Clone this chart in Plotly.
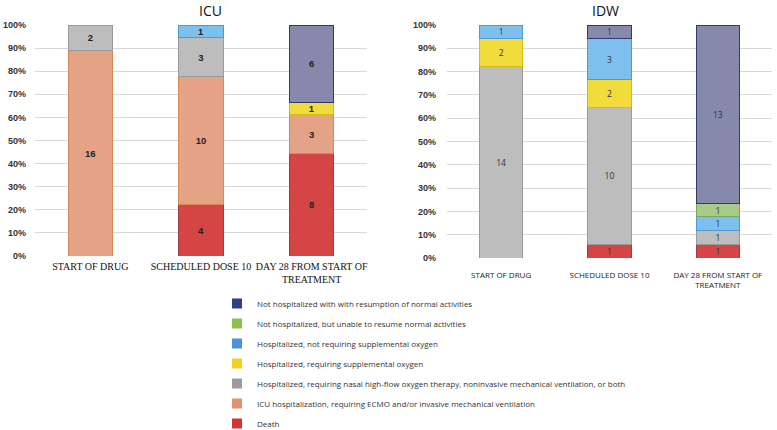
import plotly.graph_objects as go

categories = ["START OF DRUG", "SCHEDULED DOSE 10", "DAY 28 FROM START OF<br>TREATMENT"]

status_names = [
    "Death",
    "ICU hospitalization, requiring ECMO and/or invasive mechanical ventilation",
    "Hospitalized, requiring nasal high-flow oxygen therapy, noninvasive mechanical ventilation, or both",
    "Hospitalized, requiring supplemental oxygen",
    "Hospitalized, not requiring supplemental oxygen",
    "Not hospitalized, but unable to resume normal activities",
    "Not hospitalized with with resumption of normal activities",
]

icu_death = [0, 4, 8]
icu_ecmo = [16, 10, 3]
icu_nasal = [2, 3, 0]
icu_suppl = [0, 0, 1]
icu_no_oxygen = [0, 1, 0]
icu_unable = [0, 0, 0]
icu_normal = [0, 0, 6]

idw_death = [0, 1, 1]
idw_ecmo = [0, 0, 0]
idw_nasal = [14, 10, 1]
idw_suppl = [2, 2, 0]
idw_no_oxygen = [1, 3, 1]
idw_unable = [0, 0, 1]
idw_normal = [0, 1, 13]

icu_series = [icu_death, icu_ecmo, icu_nasal, icu_suppl, icu_no_oxygen, icu_unable, icu_normal]
idw_series = [idw_death, idw_ecmo, idw_nasal, idw_suppl, idw_no_oxygen, idw_unable, idw_normal]

fill_colors = ["#D64545", "#E4A386", "#BDBDBD", "#F1DC3C", "#7DC0EE", "#A8CC88", "#8689AB"]
line_colors = ["#9E3A4A", "#D9884E", "#9A9A9A", "#D4BC10", "#4C98D8", "#78A858", "#323A6C"]
legend_colors = ["#D03434", "#E09272", "#9C9C9C", "#F0D224", "#4E92DA", "#8DC050", "#2F3F8C"]

fig = go.Figure()

def add_panel(series, xa, ya, text_font):
    for name, vals, fc, lc in zip(status_names, series, fill_colors, line_colors):
        yv = [v if v else None for v in vals]
        tx = [str(v) if v else "" for v in vals]
        fig.add_trace(go.Bar(
            x=categories, y=yv, name=name, text=tx,
            textposition="inside", insidetextanchor="middle", textangle=0,
            constraintext="none", textfont=text_font,
            marker=dict(color=fc, line=dict(color=lc, width=1)),
            width=0.4, xaxis=xa, yaxis=ya, showlegend=False,
            hoverinfo="skip",
        ))

add_panel(icu_series, "x", "y", dict(family="Liberation Sans", size=9.5, color="#222", weight="bold"))
add_panel(idw_series, "x2", "y2", dict(family="Open Sans", size=8.5, color="#333"))

# legend entries (top to bottom)
for i, (name, col) in enumerate(reversed(list(zip(status_names, legend_colors)))):
    fig.add_trace(go.Scatter(
        x=[None], y=[None], mode="markers", name=name, legendgroup=f"g{i}",
        marker=dict(symbol="square", size=10, color=col),
        xaxis="x", yaxis="y", showlegend=True,
    ))

W, H = 777, 430
yaxis_common = dict(
    range=[0, 100], dtick=10, ticksuffix="%", showgrid=True,
    gridcolor="#D9D9D9", gridwidth=1, zeroline=False, showline=False,
    tickfont=dict(family="Liberation Sans", size=9, color="#333", weight="bold"),
    ticks="", fixedrange=True, automargin=False,
)

fig.update_layout(
    width=W, height=H,
    margin=dict(l=0, r=0, t=0, b=0, autoexpand=False),
    paper_bgcolor="white", plot_bgcolor="white",
    barmode="stack", barnorm="percent",
    xaxis=dict(domain=[35 / W, 367 / W], anchor="y", automargin=False,
               tickfont=dict(family="Liberation Serif", size=10, color="#111"),
               showline=False, ticks="", ticklabelstandoff=3),
    yaxis=dict(domain=[1 - 256 / H, 1 - 25 / H], anchor="x", ticklabelstandoff=8, **yaxis_common),
    xaxis2=dict(domain=[447 / W, 772 / W], anchor="y2", automargin=False,
                tickfont=dict(family="Open Sans", size=8, color="#222"),
                showline=False, ticks="", ticklabelstandoff=11),
    yaxis2=dict(domain=[1 - 258 / H, 1 - 25 / H], anchor="x2", ticklabelstandoff=10, **yaxis_common),
    showlegend=True,
    legend=dict(
        x=217 / W, y=1 - 289 / H, xanchor="left", yanchor="top",
        font=dict(family="Open Sans", size=8, color="#333"),
        bgcolor="rgba(0,0,0,0)", traceorder="grouped", tracegroupgap=1,
    ),
    annotations=[
        dict(text="ICU", x=210 / W, y=1 - 10 / H, xref="paper", yref="paper",
             xanchor="center", yanchor="middle",
             showarrow=False, font=dict(family="Open Sans", size=14, color="#111")),
        dict(text="IDW", x=605 / W, y=1 - 10 / H, xref="paper", yref="paper",
             xanchor="center", yanchor="middle",
             showarrow=False, font=dict(family="Open Sans", size=14, color="#111")),
    ],
)

fig.write_html("out.html", config={"displayModeBar": False},
               post_script="document.body.style.margin='0';")
